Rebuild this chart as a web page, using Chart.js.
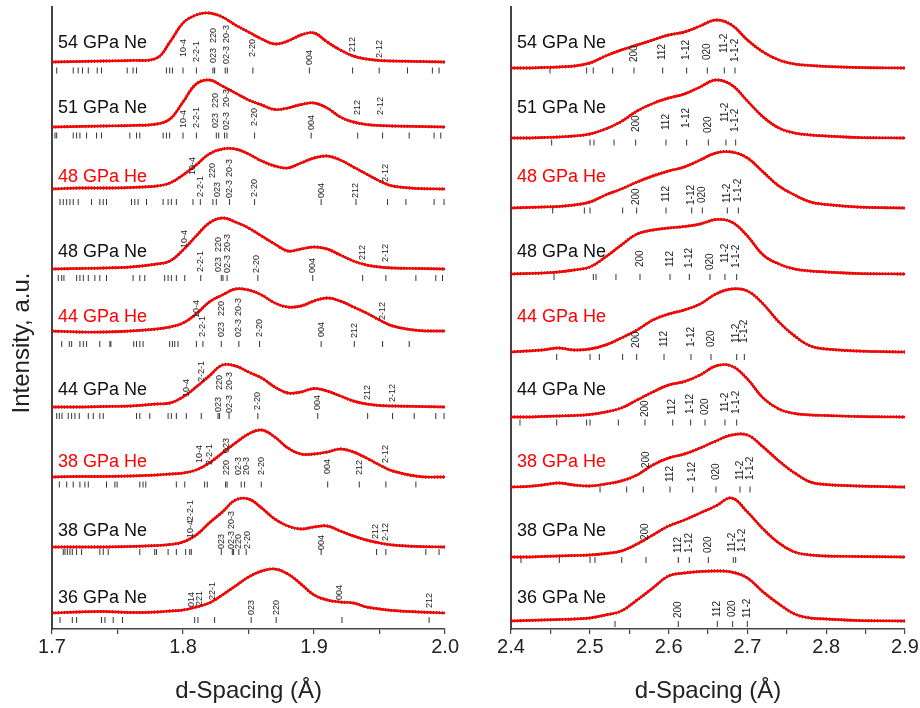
<!DOCTYPE html>
<html><head><meta charset="utf-8">
<script src="https://cdn.jsdelivr.net/npm/chart.js@4.4.1/dist/chart.umd.min.js"></script>
<style>
html,body{margin:0;padding:0;background:#fff;width:920px;height:708px;overflow:hidden}
canvas{position:absolute;top:0}
#c1{left:0}#c2{left:460px}
</style></head><body>
<canvas id="c1" width="460" height="708"></canvas>
<canvas id="c2" width="460" height="708"></canvas>
<script>
// ---------- data ----------
const samples = ['54 GPa Ne','51 GPa Ne','48 GPa He','48 GPa Ne','44 GPa He','44 GPa Ne','38 GPa He','38 GPa Ne','36 GPa Ne'];
// vertical stacking of the patterns (intensity units)
const offsetsL = [567,502,440,360,298,222,152,82,16];
const offsetsR = [561,491,421,355,277,212,142,72,8];
const nameLevels = [586,521,452,377,312,239,167,98,31];
const tickLevelsL = [558.5,493.5,427,351,285,213,144.5,77,9];
const tickLevelsR = [558.5,486.5,418.5,352,272,206.5,139.5,69,5];

// left panel d-spacing grid and profiles
const dL = [1.70,1.72,1.74,1.76,1.78,1.79,1.80,1.81,1.82,1.83,1.84,1.85,1.86,1.87,1.88,1.89,1.90,1.91,1.92,1.93,1.94,1.95,1.96,1.98,2.00];
const fitL_54Ne = [0,0.5,1,1.5,4,20,39,47,49,45,37,30,23,18,21,27,29,20,12,6,3,1.5,1,0.5,0];
const fitL_51Ne = [0,0.5,1,1.5,3,8,25,43,47,41,34,27,22,17.5,19,22.5,24,19,10,5,2.5,1.5,1,0.5,0];
const fitL_48He = [0,1,1,1.5,3,6,14,24,35,40,40,35,28,23,21,26,31,33,29,22,15,8,3,0.5,0];
const fitL_48Ne = [0,0.5,1,2,5,8,19,33,46,51,47,41,33,25,18,20,22,20,14,8,4,2,1,0.5,0];
const fitL_44He = [0,-1,-1,0,2,4,8,17,29,36,42,41,36,28,24,25,30,33,30,24,18,11,5,0.5,0];
const fitL_44Ne = [0,0,0.5,1,3,4,10,20,31,42,41,35,29,20,14,15,18.5,16,11,6,3,1.5,1,0.5,0];
const fitL_38He = [0,0.5,0.5,1,2,3,4,7,14,24,34,43,47,40,29,23,23,25,28,25,19,12,6,0.5,0];
const fitL_38Ne = [0,0,0,0.5,1.5,2.5,5,12,24,35,47,48,39,28,21,18,20,21,16,11,7,4,2,0.5,0];
const fitL_36Ne = [0,1,1.5,0.5,1,2,3,6,10,18,27,36,42,44,39,29,18,13,11,10,6,4,2.5,1,0];

// right panel d-spacing grid and profiles
const dR = [2.40,2.42,2.44,2.46,2.48,2.50,2.52,2.54,2.56,2.58,2.60,2.62,2.64,2.66,2.68,2.70,2.72,2.74,2.76,2.78,2.80,2.84,2.90];
const fitR_54Ne = [0,0,0.5,1,2,5,12,18,23,28,33,36,42,48,43,28,16,8,4,2.5,1.5,0.5,0];
const fitR_51Ne = [0,0,0.5,1,2,4,9,16.5,27,34.5,40,44,51,58,53,37,21,10,5,3,2,0.5,0];
const fitR_48He = [0,0.5,1,1.5,3,6,13,19,26,32,37,41,48,55,56,50,36,22,13,6,3.5,1,0];
const fitR_48Ne = [0,0.5,1,2,4,7,17,29,40,44,46,47.5,50,54.5,52,38,19,10,5,3,2,0.5,0];
const fitR_44He = [0,1,2,4,2,3,7,14,22,32,38,42,48,58,63,61,48,30,16,6,3,1,0];
const fitR_44Ne = [0,0,0.5,1,1.5,2.5,5,9,17,25,32,35.5,42,51,51,38,19,8,3.5,2,1.5,0.5,0];
const fitR_38He = [0,0.5,2,4,2,1,3,6,12,22,29,33,39,46,52,52,40,26,14,5,2.5,1,0];
const fitR_38Ne = [0,0,0.5,1,1.5,2,3.5,6,13,22,31,37,44,51,59,45,28,14,5,2,1,0.5,0];
const fitR_36Ne = [0,0.5,1,1.5,2,3,6,10,21,33,45,48,49.5,50,49,43,29,17,7,3,2,0.5,0];

// reflection positions (d, Å)
const reflL_54Ne = [1.7036,1.7162,1.7200,1.7233,1.7277,1.7345,1.7378,1.7574,1.7619,1.7645,1.7873,1.7898,1.7919,1.8000,1.8102,1.8228,1.8241,1.8322,1.8338,1.8533,1.8964,1.9294,1.9497,1.9713,1.9903,1.9954];
const reflL_51Ne = [1.7023,1.7036,1.7162,1.7188,1.7213,1.7264,1.7340,1.7378,1.7594,1.7645,1.7670,1.7848,1.7873,1.7898,1.8000,1.8102,1.8254,1.8272,1.8317,1.8335,1.8546,1.8978,1.9333,1.9523,1.9726,1.9916,1.9967];
const reflL_48He = [1.7061,1.7086,1.7112,1.7137,1.7162,1.7200,1.7302,1.7365,1.7391,1.7416,1.7607,1.7632,1.7657,1.7721,1.7848,1.7886,1.7911,1.7949,1.8076,1.8132,1.8228,1.8254,1.8355,1.8546,1.9054,1.9320,1.9561,1.9701,1.9916,1.9992];
const reflL_48Ne = [1.7048,1.7074,1.7091,1.7188,1.7213,1.7239,1.7277,1.7327,1.7365,1.7416,1.7619,1.7670,1.7708,1.7860,1.7886,1.7911,1.7949,1.8013,1.8135,1.8292,1.8305,1.8336,1.8571,1.8990,1.9371,1.9548,1.9777,1.9929,1.9980];
const reflL_44He = [1.7074,1.7132,1.7150,1.7213,1.7239,1.7264,1.7365,1.7442,1.7449,1.7624,1.7645,1.7670,1.7695,1.7898,1.7919,1.7937,1.7962,1.8102,1.8152,1.8292,1.8426,1.8584,1.9054,1.9307,1.9523,1.9726];
const reflL_44Ne = [1.7036,1.7056,1.7076,1.7124,1.7150,1.7175,1.7208,1.7277,1.7315,1.7365,1.7391,1.7645,1.7670,1.7746,1.7886,1.7911,1.7949,1.8025,1.8139,1.8267,1.8279,1.8351,1.8571,1.9028,1.9409,1.9599,1.9764,1.9929,1.9992];
const reflL_38He = [1.7056,1.7112,1.7162,1.7213,1.7251,1.7277,1.7416,1.7480,1.7497,1.7670,1.7695,1.7716,1.7949,1.8013,1.8165,1.8185,1.8325,1.8336,1.8444,1.8470,1.8597,1.9104,1.9345,1.9548,1.9777];
const reflL_38Ne = [1.7086,1.7099,1.7117,1.7137,1.7155,1.7188,1.7226,1.7365,1.7391,1.7429,1.7670,1.7784,1.7797,1.7886,1.7949,1.8020,1.8051,1.8063,1.8292,1.8376,1.8386,1.8426,1.8482,1.9054,1.9477,1.9548,1.9853,1.9954];
const reflL_36Ne = [1.7061,1.7155,1.7188,1.7378,1.7404,1.7467,1.7538,1.8089,1.8114,1.8241,1.8520,1.8711,1.9213,1.9878];

const reflR_54Ne = [2.4495,2.4960,2.5044,2.5290,2.5561,2.5925,2.6229,2.6491,2.6707,2.6843];
const reflR_51Ne = [2.4516,2.5003,2.5053,2.5307,2.5582,2.5967,2.6229,2.6504,2.6728,2.6851];
const reflR_48He = [2.4529,2.4931,2.5003,2.5417,2.5595,2.5967,2.6293,2.6428,2.6745,2.6885];
const reflR_48Ne = [2.4546,2.5045,2.5079,2.5332,2.5637,2.6018,2.6263,2.6525,2.6715,2.6864];
const reflR_44He = [2.4580,2.5003,2.5121,2.5417,2.5595,2.5942,2.6284,2.6538,2.6864,2.6961];
const reflR_44Ne = [2.4114,2.4580,2.4960,2.5003,2.5362,2.5700,2.6052,2.6280,2.6462,2.6715,2.6864];
const reflR_38He = [2.5130,2.5468,2.5679,2.6018,2.6306,2.6601,2.6906,2.7033];
const reflR_38Ne = [2.4127,2.4613,2.5003,2.5066,2.5405,2.5713,2.6123,2.6263,2.6504,2.6821,2.6851];
const reflR_36Ne = [2.5320,2.6123,2.6618,2.6813,2.6999];

// hkl labels: [text, d, height above baseline]
const hklL_54Ne = [['10-4',1.8000,5],['2-2-1',1.8102,0],['023',1.8236,-1],['220',1.8236,19],['02-3',1.8330,-2],['20-3',1.8330,19],['2-20',1.8533,5],['004',1.8964,-3],['212',1.9294,10],['2-12',1.9497,4]];
const hklL_51Ne = [['10-4',1.8000,-1],['2-2-1',1.8102,-1],['023',1.8249,-1],['220',1.8249,19],['02-3',1.8330,-3],['20-3',1.8330,20],['2-20',1.8546,1],['004',1.8978,-3],['212',1.9333,12],['2-12',1.9510,12]];
const hklL_48He = [['10-4',1.8076,14],['2-2-1',1.8132,-8],['220',1.8228,11],['023',1.8262,-8],['20-3',1.8355,12],['02-3',1.8355,-9],['2-20',1.8546,-8],['004',1.9054,-9],['212',1.9320,-9],['2-12',1.9548,7]];
const hklL_48Ne = [['10-4',1.8013,21],['2-2-1',1.8135,-3],['220',1.8267,17],['023',1.8267,-3],['20-3',1.8336,17],['02-3',1.8336,-4],['2-20',1.8559,-4],['004',1.8990,-4],['212',1.9371,9],['2-12',1.9548,7]];
const hklL_44He = [['10-4',1.8102,13],['2-2-1',1.8152,-6],['220',1.8292,15],['023',1.8292,-6],['20-3',1.8426,15],['02-3',1.8426,-6],['2-20',1.8584,-6],['004',1.9054,-6],['212',1.9307,-7],['2-12',1.9523,11]];
const hklL_44Ne = [['10-4',1.8025,10],['2-2-1',1.8139,25],['220',1.8275,17],['023',1.8267,-5],['20-3',1.8351,17],['02-3',1.8351,-6],['2-20',1.8571,-3],['004',1.9028,-3],['212',1.9409,7],['2-12',1.9599,5]];
const hklL_38He = [['10-4',1.8127,14],['2-2-1',1.8203,12],['023',1.8330,24],['220',1.8330,2],['02-3',1.8426,2],['20-3',1.8487,2],['2-20',1.8597,2],['004',1.9104,3],['212',1.9345,2],['2-12',1.9548,14]];
const hklL_38Ne = [['10-4',1.8056,9],['2-2-1',1.8056,26],['023',1.8292,-2],['02-3',1.8368,-2],['20-3',1.8368,18],['220',1.8426,-2],['2-20',1.8495,-2],['004',1.9054,-3],['212',1.9472,8],['2-12',1.9548,6]];
const hklL_36Ne = [['014',1.8063,6],['221',1.8127,7],['22-1',1.8228,13],['023',1.8520,-2],['220',1.8711,-2],['004',1.9193,13],['212',1.9878,5]];

const hklR_54Ne = [['200',2.5561,6],['112',2.5925,8],['1-12',2.6229,8],['020',2.6491,8],['11-2',2.6707,15],['1-1-2',2.6843,6]];
const hklR_51Ne = [['200',2.5595,6],['112',2.5976,8],['1-12',2.6229,10],['020',2.6504,5],['11-2',2.6715,16],['1-1-2',2.6851,6]];
const hklR_48He = [['200',2.5595,3],['112',2.5967,6],['1-12',2.6293,3],['020',2.6428,5],['11-2',2.6745,5],['1-1-2',2.6885,6]];
const hklR_48Ne = [['200',2.5637,7],['112',2.6018,7],['1-12',2.6263,6],['020',2.6525,4],['11-2',2.6715,11],['1-1-2',2.6864,6]];
const hklR_44He = [['200',2.5595,4],['112',2.5942,5],['1-12',2.6284,5],['020',2.6538,5],['11-2',2.6864,9],['1-1-2',2.6961,9]];
const hklR_44Ne = [['200',2.5709,0],['112',2.6052,2],['1-12',2.6280,3],['020',2.6462,2],['11-2',2.6715,5],['1-1-2',2.6864,3]];
const hklR_38He = [['200',2.5713,19],['112',2.6018,5],['1-12',2.6306,5],['020',2.6601,7],['11-2',2.6906,7],['1-1-2',2.7033,7]];
const hklR_38Ne = [['200',2.5700,17],['112',2.6123,4],['1-12',2.6263,4],['020',2.6504,4],['11-2',2.6813,5],['1-1-2',2.6935,5]];
const hklR_36Ne = [['200',2.6123,3],['112',2.6618,4],['020',2.6813,4],['11-2',2.6999,3]];

const xTitle = 'd-Spacing (Å)';
const yTitle = 'Intensity, a.u.';

// ---------- assembly ----------
const FONT = "'Liberation Sans', Arial, Helvetica, sans-serif";
const RED = '#ff0000';
const fitsL = [fitL_54Ne,fitL_51Ne,fitL_48He,fitL_48Ne,fitL_44He,fitL_44Ne,fitL_38He,fitL_38Ne,fitL_36Ne];
const fitsR = [fitR_54Ne,fitR_51Ne,fitR_48He,fitR_48Ne,fitR_44He,fitR_44Ne,fitR_38He,fitR_38Ne,fitR_36Ne];
const reflsL = [reflL_54Ne,reflL_51Ne,reflL_48He,reflL_48Ne,reflL_44He,reflL_44Ne,reflL_38He,reflL_38Ne,reflL_36Ne];
const reflsR = [reflR_54Ne,reflR_51Ne,reflR_48He,reflR_48Ne,reflR_44He,reflR_44Ne,reflR_38He,reflR_38Ne,reflR_36Ne];
const hklsL = [hklL_54Ne,hklL_51Ne,hklL_48He,hklL_48Ne,hklL_44He,hklL_44Ne,hklL_38He,hklL_38Ne,hklL_36Ne];
const hklsR = [hklR_54Ne,hklR_51Ne,hklR_48He,hklR_48Ne,hklR_44He,hklR_44Ne,hklR_38He,hklR_38Ne,hklR_36Ne];

function buildDatasets(xs, fits, offsets, refls, tickLevels){
  const ds = [];
  samples.forEach((name,i)=>{
    ds.push({type:'line', data: xs.map((x,j)=>({x, y: offsets[i]+fits[i][j]})),
      borderColor:'#111', borderWidth:2.9, borderDash:[1.2,1.8], pointRadius:0,
      tension:0.4, order:3});
    ds.push({type:'line', data: xs.map((x,j)=>({x, y: offsets[i]+fits[i][j]})),
      borderColor:RED, borderWidth:2.4, pointRadius:0,
      tension:0.4, order:1});
    ds.push({type:'scatter', data: refls[i].map(d=>({x:d, y:tickLevels[i]})),
      pointStyle:'line', pointRadius:3, pointRotation:90, pointBorderColor:'#333',
      pointBorderWidth:1, borderColor:'#333', showLine:false, order:2});
  });
  return ds;
}

function textPlugin(id, offsets, hkls, hklSize, drawYTitle){
  return {id, afterDatasetsDraw(chart){
    const ctx = chart.ctx, xs = chart.scales.x, ys = chart.scales.y, ca = chart.chartArea;
    ctx.save();
    ctx.textBaseline = 'middle'; ctx.textAlign = 'left';
    ctx.font = hklSize + 'px ' + FONT;
    ctx.fillStyle = '#222';
    hkls.forEach((list,i)=>{
      list.forEach(([t,d,h])=>{
        const px = xs.getPixelForValue(d), py = ys.getPixelForValue(offsets[i]+h);
        ctx.save(); ctx.translate(px,py); ctx.rotate(-Math.PI/2); ctx.fillText(t,0,0); ctx.restore();
      });
    });
    ctx.font = '18px ' + FONT;
    samples.forEach((n,i)=>{
      ctx.fillStyle = n.endsWith('He') ? RED : '#111';
      ctx.fillText(n, ca.left+6, ys.getPixelForValue(nameLevels[i]));
    });
    if (drawYTitle){
      ctx.font = '24px ' + FONT; ctx.fillStyle = '#222'; ctx.textAlign = 'center';
      ctx.translate(22, 343); ctx.rotate(-Math.PI/2); ctx.fillText(yTitle, 0, 0);
    }
    ctx.restore();
  }};
}

function options(xmin, xmax, yWidth, padRight){
  return {
    responsive:false, animation:false, events:[], devicePixelRatio:1,
    layout:{padding:{top:7,right:padRight,left:0,bottom:0}},
    plugins:{legend:{display:false}, tooltip:{enabled:false}},
    scales:{
      x:{type:'linear', min:xmin, max:xmax,
        ticks:{stepSize:0.05, autoSkip:false, maxRotation:0, minRotation:0, padding:1, color:'#222',
          font:{family:FONT, size:20},
          callback:(v)=> Math.abs(v*10-Math.round(v*10))<1e-6 ? v.toFixed(1) : ''},
        grid:{drawOnChartArea:false, drawTicks:true, tickLength:5, color:'#444', lineWidth:1.2},
        border:{display:true, color:'#444', width:1.6},
        title:{display:true, text:xTitle, color:'#222', font:{family:FONT, size:24}, padding:{top:4, bottom:2}},
        afterFit:(s)=>{ s.height = 79; }
      },
      y:{type:'linear', min:0, max:622,
        ticks:{display:false}, grid:{display:false, drawTicks:false},
        border:{display:true, color:'#444', width:2},
        afterFit:(s)=>{ s.width = yWidth; }
      }
    }
  };
}

new Chart(document.getElementById('c1'), {
  type:'line',
  data:{datasets: buildDatasets(dL, fitsL, offsetsL, reflsL, tickLevelsL)},
  options: options(1.7, 2.0, 52, 14),
  plugins:[textPlugin('txtL', offsetsL, hklsL, 9, true)]
});
new Chart(document.getElementById('c2'), {
  type:'line',
  data:{datasets: buildDatasets(dR, fitsR, offsetsR, reflsR, tickLevelsR)},
  options: options(2.4, 2.9, 51, 15),
  plugins:[textPlugin('txtR', offsetsR, hklsR, 10, false)]
});
</script>
</body></html>
